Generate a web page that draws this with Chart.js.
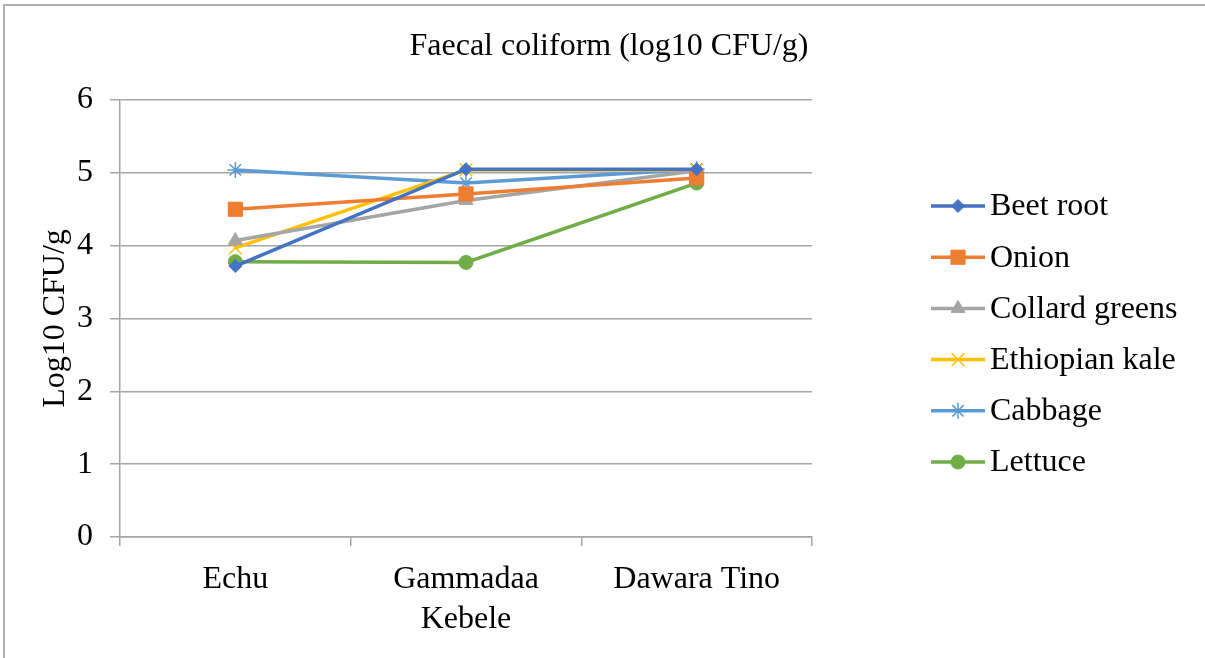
<!DOCTYPE html>
<html>
<head>
<meta charset="utf-8">
<script src="https://cdn.jsdelivr.net/npm/chart.js@4.4.1/dist/chart.umd.min.js"></script>
<style>
  html, body { margin: 0; padding: 0; background: #fff; overflow: hidden; }
  #wrap { position: relative; width: 1205px; height: 658px; overflow: hidden; }
  #frame { position: absolute; left: 3px; top: 4px; width: 1300px; height: 800px; border: 2px solid #b0b0b0; pointer-events: none; }
</style>
</head>
<body>
<div id="wrap">
  <canvas id="myChart" width="1205" height="658"></canvas>
  <div id="frame"></div>
</div>
<script>
const kebeles = ['Echu', 'Gammadaa', 'Dawara Tino'];
const yTicks = [0, 1, 2, 3, 4, 5, 6];

const beetRoot = [3.72, 5.05, 5.05];
const onion = [4.50, 4.71, 4.93];
const collardGreens = [4.07, 4.62, 5.03];
const ethiopianKale = [3.97, 5.04, 5.04];
const cabbage = [5.04, 4.86, 5.05];
const lettuce = [3.78, 3.77, 4.86];

const seriesNames = ['Beet root', 'Onion', 'Collard greens', 'Ethiopian kale', 'Cabbage', 'Lettuce'];
const seriesData = [beetRoot, onion, collardGreens, ethiopianKale, cabbage, lettuce];
const colors = ['#4472C4', '#ED7D31', '#A5A5A5', '#FFC000', '#5B9BD5', '#70AD47'];
const markers = ['rectRot', 'rect', 'triangle', 'crossRot', 'star', 'circle'];
const radii = [6.5, 10, 8, 9, 8, 7];

const serif = '"Liberation Serif", "Times New Roman", serif';

// title + legend drawn by hand (Excel style: line with marker in the middle)
const excelBits = {
    id: 'excelBits',
    afterDraw(chart) {
        const ctx = chart.ctx;
        ctx.save();
        ctx.fillStyle = '#000';
        ctx.font = '32px ' + serif;
        ctx.textBaseline = 'middle';
        ctx.textAlign = 'center';
        ctx.fillText('Faecal coliform (log10 CFU/g)', 609, 47);

        const x0 = 931, x1 = 985, top = 206, step = 51.2;
        chart.data.datasets.forEach((ds, i) => {
            const y = top + i * step;
            ctx.strokeStyle = ds.borderColor;
            ctx.lineWidth = 3.5;
            ctx.beginPath();
            ctx.moveTo(x0, y);
            ctx.lineTo(x1, y);
            ctx.stroke();
            ctx.fillStyle = ds.backgroundColor;
            ctx.lineWidth = ds.pointBorderWidth;
            Chart.helpers.drawPoint(ctx, {
                pointStyle: ds.pointStyle,
                radius: ds.pointRadius,
                rotation: 0,
                borderWidth: ds.pointBorderWidth
            }, (x0 + x1) / 2, y);
            ctx.fillStyle = '#000';
            ctx.textAlign = 'left';
            ctx.fillText(ds.label, 990, y + 1);
        });
        ctx.restore();
    }
};

const ctx = document.getElementById('myChart');

new Chart(ctx, {
    type: 'line',
    data: {
        labels: kebeles,
        datasets: seriesNames.map((name, i) => ({
            label: name,
            data: seriesData[i],
            borderColor: colors[i],
            backgroundColor: colors[i],
            pointStyle: markers[i],
            pointRadius: radii[i],
            pointBorderWidth: (markers[i] === 'crossRot' || markers[i] === 'star') ? 1.5 : 1,
            borderWidth: 3.5,
            tension: 0,
            fill: false
        }))
    },
    options: {
        animation: false,
        responsive: false,
        layout: {
            padding: { left: 14, right: 393, top: 100, bottom: 0 }
        },
        scales: {
            x: {
                offset: true,
                grid: {
                    offset: true,
                    drawOnChartArea: false,
                    color: '#a6a6a6',
                    lineWidth: 1.5,
                    tickLength: 9
                },
                border: { color: '#a6a6a6', width: 1.5 },
                ticks: {
                    color: '#000',
                    font: { family: serif, size: 32 },
                    padding: 14
                },
                title: {
                    display: true,
                    text: 'Kebele',
                    color: '#000',
                    font: { family: serif, size: 32 },
                    padding: { top: 4, bottom: 19 }
                },
                afterFit(scale) { scale.height = 658 - 537; }
            },
            y: {
                min: 0,
                max: 6,
                afterBuildTicks(scale) { scale.ticks = yTicks.map(v => ({ value: v })); },
                grid: {
                    color: '#a6a6a6',
                    lineWidth: 1.5,
                    tickLength: 10
                },
                border: { color: '#a6a6a6', width: 1.5 },
                ticks: {
                    color: '#000',
                    font: { family: serif, size: 32 },
                    padding: 17
                },
                title: {
                    display: true,
                    text: 'Log10 CFU/g',
                    color: '#000',
                    font: { family: serif, size: 32 },
                    padding: { top: 22, bottom: 0 }
                },
                afterFit(scale) { scale.width = 120 - 14; }
            }
        },
        plugins: {
            legend: { display: false },
            tooltip: { enabled: false },
            title: { display: false }
        }
    },
    plugins: [excelBits]
});
</script>
</body>
</html>
